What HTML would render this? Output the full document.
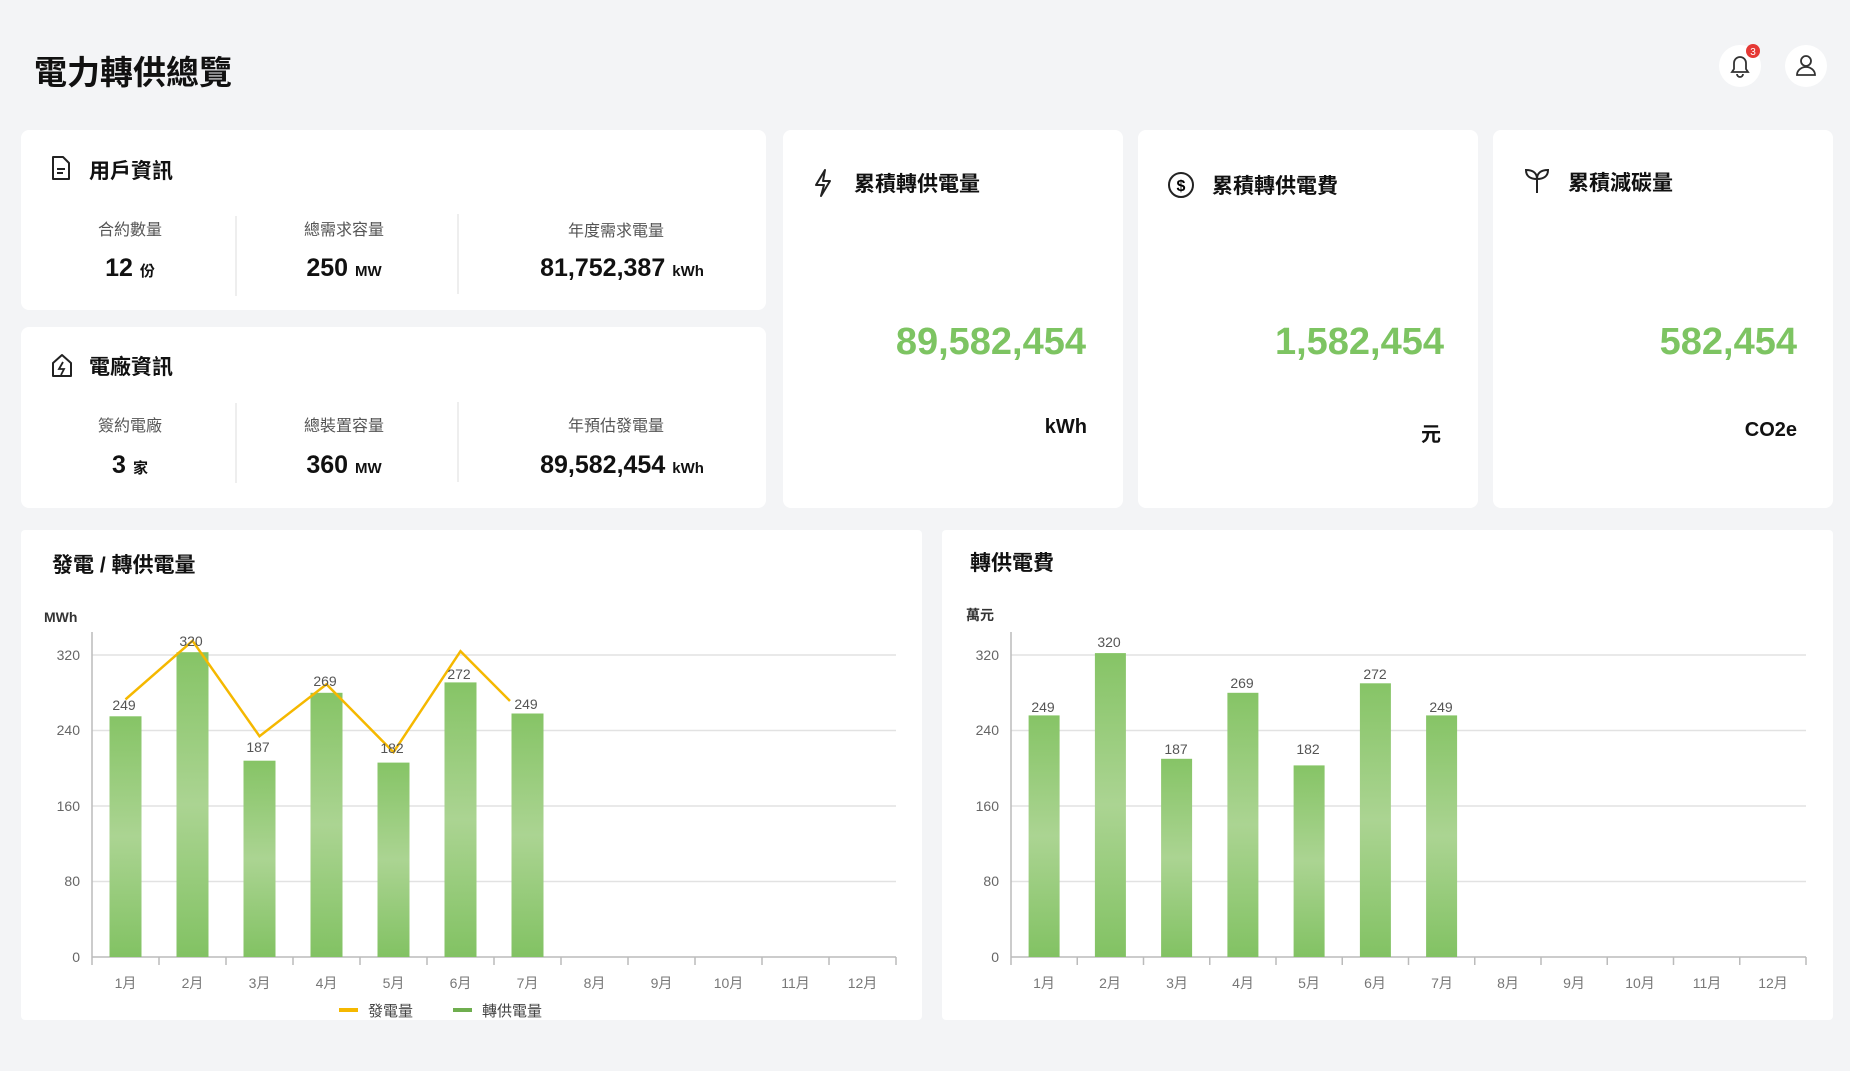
<!DOCTYPE html>
<html><head><meta charset="utf-8"><style>
*{margin:0;padding:0;box-sizing:border-box}
body{width:1850px;height:1071px;background:#f3f4f6;position:relative;overflow:hidden;font-family:"Liberation Sans","Noto Sans CJK TC",sans-serif;color:#111}
.card{position:absolute;background:#fff;border-radius:8px}
.a{position:absolute;white-space:nowrap}
.t{font-size:21px;font-weight:bold}
.lb{font-size:16px;color:#555;transform:translateX(-50%)}
.v{font-size:25px;font-weight:bold;transform:translateX(-50%)}
.v small{font-size:15px;margin-left:7px}
.dv{position:absolute;width:2px;background:#eee}
.big{font-size:38px;font-weight:bold;color:#7dc462;text-align:right}
.un{font-size:20px;font-weight:bold;text-align:right}
</style></head><body>
<div class="a" style="left:34px;top:46px;font-size:33px;font-weight:bold">電力轉供總覽</div>
<svg class="a" style="left:1718px;top:44px" width="44" height="44"><circle cx="22" cy="22" r="21" fill="#fff"/><path d="M14 28h16l-2-3v-6a6 6 0 0 0-12 0v6z M19 30a3 3 0 0 0 6 0" fill="none" stroke="#333" stroke-width="1.8"/><circle cx="35" cy="7" r="7" fill="#e53935"/><text x="35" y="11" font-size="10" fill="#fff" text-anchor="middle" font-family="Liberation Sans">3</text></svg>
<svg class="a" style="left:1784px;top:44px" width="44" height="44"><circle cx="22" cy="22" r="21" fill="#fff"/><circle cx="22" cy="17" r="5" fill="none" stroke="#333" stroke-width="1.8"/><path d="M13 31a9 8 0 0 1 18 0z" fill="none" stroke="#333" stroke-width="1.8"/></svg>

<div class="card" style="left:21px;top:130px;width:745px;height:180px"></div>
<div class="card" style="left:21px;top:327px;width:745px;height:181px"></div>
<div class="card" style="left:783px;top:130px;width:340px;height:378px"></div>
<div class="card" style="left:1138px;top:130px;width:340px;height:378px"></div>
<div class="card" style="left:1493px;top:130px;width:340px;height:378px"></div>
<div class="card" style="left:21px;top:530px;width:901px;height:490px;border-radius:4px"></div>
<div class="card" style="left:942px;top:530px;width:891px;height:490px;border-radius:4px"></div>

<svg class="a" style="left:50px;top:155px" width="22" height="26"><path d="M3 2h10l6 6v16H3z" fill="none" stroke="#222" stroke-width="2" stroke-linejoin="round"/><path d="M7 14h8M7 18h6" stroke="#222" stroke-width="2"/></svg>
<div class="a t" style="left:89px;top:155px">用戶資訊</div>
<div class="a lb" style="left:130px;top:216px">合約數量</div>
<div class="a lb" style="left:344px;top:216px">總需求容量</div>
<div class="a lb" style="left:616px;top:217px">年度需求電量</div>
<div class="a v" style="left:130px;top:254px">12<small>份</small></div>
<div class="a v" style="left:344px;top:254px">250<small>MW</small></div>
<div class="a v" style="left:622px;top:254px">81,752,387<small>kWh</small></div>
<div class="dv" style="left:235px;top:216px;height:80px"></div>
<div class="dv" style="left:457px;top:214px;height:80px"></div>

<svg class="a" style="left:50px;top:352px" width="24" height="26"><path d="M3 24V11l9-8 9 8v13z" fill="none" stroke="#222" stroke-width="2" stroke-linejoin="round"/><path d="M13 10l-4 7h5l-3 6" fill="none" stroke="#222" stroke-width="1.8"/></svg>
<div class="a t" style="left:89px;top:351px">電廠資訊</div>
<div class="a lb" style="left:130px;top:412px">簽約電廠</div>
<div class="a lb" style="left:344px;top:412px">總裝置容量</div>
<div class="a lb" style="left:616px;top:412px">年預估發電量</div>
<div class="a v" style="left:130px;top:451px">3<small>家</small></div>
<div class="a v" style="left:344px;top:451px">360<small>MW</small></div>
<div class="a v" style="left:622px;top:451px">89,582,454<small>kWh</small></div>
<div class="dv" style="left:235px;top:403px;height:80px"></div>
<div class="dv" style="left:457px;top:402px;height:80px"></div>

<svg class="a" style="left:812px;top:168px" width="22" height="30"><path d="M13 2L4 17h8l-3 11 9-15h-7z" fill="none" stroke="#222" stroke-width="2" stroke-linejoin="round"/></svg>
<div class="a t" style="left:854px;top:168px">累積轉供電量</div>
<div class="a big" style="right:764px;top:321px">89,582,454</div>
<div class="a un" style="right:763px;top:416px">kWh</div>

<svg class="a" style="left:1167px;top:171px" width="28" height="28"><circle cx="14" cy="14" r="12" fill="none" stroke="#222" stroke-width="2"/><text x="14" y="20" text-anchor="middle" font-size="16" font-weight="bold" font-family="Liberation Sans">$</text></svg>
<div class="a t" style="left:1212px;top:170px">累積轉供電費</div>
<div class="a big" style="right:406px;top:321px">1,582,454</div>
<div class="a un" style="right:409px;top:418px">元</div>

<svg class="a" style="left:1523px;top:165px" width="28" height="30"><path d="M14 28V14M14 14c0-6-4-9-11-9 0 6 4 9 11 9zM14 14c0-6 4-9 11-9 0 6-4 9-11 9z" fill="none" stroke="#222" stroke-width="2"/></svg>
<div class="a t" style="left:1568px;top:167px">累積減碳量</div>
<div class="a big" style="right:53px;top:321px">582,454</div>
<div class="a un" style="right:53px;top:419px">CO2e</div>

<div class="a t" style="left:52px;top:549px">發電 / 轉供電量</div>
<div class="a t" style="left:970px;top:547px">轉供電費</div>

<svg class="a" style="left:0;top:0" width="1850" height="1071" font-family="Liberation Sans,Noto Sans CJK TC,sans-serif">
<defs><linearGradient id="g" x1="0" y1="0" x2="0" y2="1"><stop offset="0" stop-color="#86c466"/><stop offset="0.5" stop-color="#abd492"/><stop offset="1" stop-color="#82c263"/></linearGradient></defs>
<text x="44" y="622" font-size="14" font-weight="bold" fill="#333">MWh</text>
<text x="966" y="620" font-size="14" font-weight="bold" fill="#333">萬元</text>
<g stroke="#e2e2e2" stroke-width="1.5">
<line x1="92" x2="896" y1="881.5" y2="881.5"/><line x1="92" x2="896" y1="806" y2="806"/><line x1="92" x2="896" y1="730.5" y2="730.5"/><line x1="92" x2="896" y1="655" y2="655"/>
<line x1="1011" x2="1806" y1="881.5" y2="881.5"/><line x1="1011" x2="1806" y1="806" y2="806"/><line x1="1011" x2="1806" y1="730.5" y2="730.5"/><line x1="1011" x2="1806" y1="655" y2="655"/>
</g>
<g stroke="#bbb" stroke-width="1.5">
<line x1="92" x2="92" y1="632" y2="965"/><line x1="92" x2="896" y1="957" y2="957"/>
<path d="M159 957v8M226 957v8M293 957v8M360 957v8M427 957v8M494 957v8M561 957v8M628 957v8M695 957v8M762 957v8M829 957v8M896 957v8"/>
<line x1="1011" x2="1011" y1="632" y2="965"/><line x1="1011" x2="1806" y1="957" y2="957"/>
<path d="M1077.25 957v8M1143.5 957v8M1209.75 957v8M1276 957v8M1342.25 957v8M1408.5 957v8M1474.75 957v8M1541 957v8M1607.25 957v8M1673.5 957v8M1739.75 957v8M1806 957v8"/>
</g>
<g font-size="14" fill="#666" text-anchor="end">
<text x="80" y="962">0</text><text x="80" y="886">80</text><text x="80" y="811">160</text><text x="80" y="735">240</text><text x="80" y="660">320</text>
<text x="999" y="962">0</text><text x="999" y="886">80</text><text x="999" y="811">160</text><text x="999" y="735">240</text><text x="999" y="660">320</text>
</g>
<g fill="url(#g)">
<rect x="109.5" y="716.3" width="32" height="240.7"/><rect x="176.5" y="652.2" width="32" height="304.8"/><rect x="243.5" y="760.7" width="32" height="196.3"/><rect x="310.5" y="692.8" width="32" height="264.2"/><rect x="377.5" y="762.6" width="32" height="194.4"/><rect x="444.5" y="682.4" width="32" height="274.6"/><rect x="511.5" y="713.5" width="32" height="243.5"/>
<rect x="1028.6" y="715.4" width="31" height="241.6"/><rect x="1094.9" y="653.1" width="31" height="303.9"/><rect x="1161.1" y="758.8" width="31" height="198.2"/><rect x="1227.4" y="692.8" width="31" height="264.2"/><rect x="1293.6" y="765.4" width="31" height="191.6"/><rect x="1359.9" y="683.3" width="31" height="273.7"/><rect x="1426.1" y="715.4" width="31" height="241.6"/>
</g>
<polyline points="125.5,699.4 192.5,640.8 259.5,736.2 326.5,684.3 393.5,752.2 460.5,651.2 510,701" fill="none" stroke="#f5b800" stroke-width="2.5"/>
<g font-size="14" fill="#555" text-anchor="middle">
<text x="124" y="710">249</text><text x="191" y="646">320</text><text x="258" y="752">187</text><text x="325" y="686">269</text><text x="392" y="753">182</text><text x="459" y="679">272</text><text x="526" y="709">249</text>
<text x="1043" y="712">249</text><text x="1109" y="647">320</text><text x="1176" y="754">187</text><text x="1242" y="688">269</text><text x="1308" y="754">182</text><text x="1375" y="679">272</text><text x="1441" y="712">249</text>
</g>
<g font-size="14" fill="#777" text-anchor="middle">
<text x="125.5" y="988">1月</text><text x="192.5" y="988">2月</text><text x="259.5" y="988">3月</text><text x="326.5" y="988">4月</text><text x="393.5" y="988">5月</text><text x="460.5" y="988">6月</text><text x="527.5" y="988">7月</text><text x="594.5" y="988">8月</text><text x="661.5" y="988">9月</text><text x="728.5" y="988">10月</text><text x="795.5" y="988">11月</text><text x="862.5" y="988">12月</text>
<text x="1044" y="988">1月</text><text x="1110" y="988">2月</text><text x="1177" y="988">3月</text><text x="1243" y="988">4月</text><text x="1309" y="988">5月</text><text x="1375" y="988">6月</text><text x="1442" y="988">7月</text><text x="1508" y="988">8月</text><text x="1574" y="988">9月</text><text x="1640" y="988">10月</text><text x="1707" y="988">11月</text><text x="1773" y="988">12月</text>
</g>
<rect x="339" y="1008" width="19" height="4" fill="#f5b800"/><text x="368" y="1016" font-size="15" fill="#444">發電量</text>
<rect x="453" y="1008" width="19" height="4" fill="#6fae4f"/><text x="482" y="1016" font-size="15" fill="#444">轉供電量</text>
</svg>
</body></html>
